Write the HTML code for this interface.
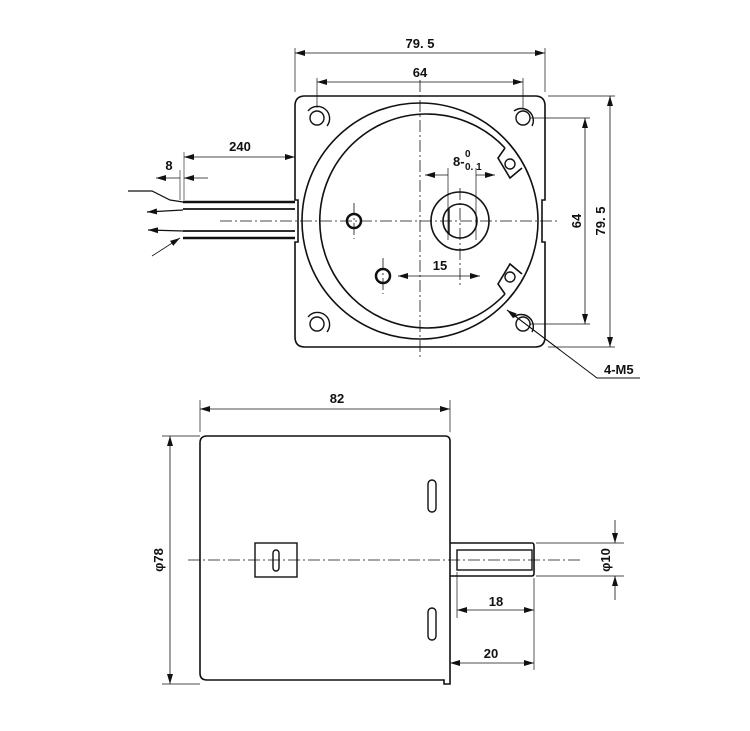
<!DOCTYPE html>
<html><head><meta charset="utf-8"><style>
html,body{margin:0;padding:0;background:#fff}
svg{display:block}
text{font-family:"Liberation Sans",sans-serif;fill:#111;font-weight:bold}
</style></head><body>
<svg width="750" height="731" viewBox="0 0 750 731" xmlns="http://www.w3.org/2000/svg">
<defs>
<marker id="a" viewBox="0 0 10 6" refX="10" refY="3" markerWidth="10" markerHeight="6" orient="auto-start-reverse" markerUnits="userSpaceOnUse"><path d="M0,0 L10,3 L0,6z" fill="#111"/></marker>
</defs>
<g fill="none" stroke="#111" stroke-width="1">
<!-- TOP VIEW -->
<path d="M305,96 H535 Q545,96 545,106 V200 H542 V242 H545 V337 Q545,347 535,347 H305 Q295,347 295,337 V242 H298 V200 H295 V106 Q295,96 305,96 Z" stroke-width="1.6"/>
<circle cx="420" cy="221" r="118" stroke-width="1.6"/>
<path d="M505,148 A107,107 0 1 0 505,294" stroke-width="1.6"/>
<path d="M505,148 L498,158 L510,178 L522,168" stroke-width="1.6"/>
<path d="M505,294 L498,284 L510,264 L522,274" stroke-width="1.6"/>
<circle cx="510" cy="164" r="5" stroke-width="1.4"/>
<circle cx="510" cy="277" r="5" stroke-width="1.4"/>
<!-- corner holes -->
<g stroke-width="1.4">
<circle cx="317" cy="118" r="7"/><circle cx="523" cy="118" r="7"/><circle cx="317" cy="324" r="7"/><circle cx="523" cy="324" r="7"/>
<path d="M308,111 A12,12 0 0 1 327,126"/><path d="M514,111 A12,12 0 0 1 532,126"/><path d="M308,317 A12,12 0 0 1 327,332"/><path d="M514,317 A12,12 0 0 1 532,332"/>
</g>
<!-- shaft -->
<circle cx="460" cy="221" r="29" stroke-width="1.6"/>
<circle cx="460" cy="221" r="17" stroke-width="1.6"/>
<line x1="449" y1="208" x2="449" y2="234" stroke-width="1.4"/>
<circle cx="354" cy="221" r="7" stroke-width="2.5"/>
<circle cx="383" cy="276" r="7" stroke-width="2.5"/>
<!-- centre lines -->
<g stroke-dasharray="12,3,2,3" stroke-width="0.8">
<line x1="220" y1="221" x2="560" y2="221"/>
<line x1="420" y1="80" x2="420" y2="360"/>
<line x1="460" y1="188" x2="460" y2="285"/>
<line x1="354" y1="203" x2="354" y2="239"/>
<line x1="383" y1="258" x2="383" y2="294"/>
</g>
<!-- dims top -->
<line x1="295" y1="92" x2="295" y2="48" stroke-width="0.7"/>
<line x1="545" y1="92" x2="545" y2="48" stroke-width="0.7"/>
<line x1="295" y1="53" x2="545" y2="53" marker-start="url(#a)" marker-end="url(#a)" stroke-width="0.8"/>
<line x1="317" y1="108" x2="317" y2="78" stroke-width="0.7"/>
<line x1="523" y1="108" x2="523" y2="78" stroke-width="0.7"/>
<line x1="317" y1="82" x2="523" y2="82" marker-start="url(#a)" marker-end="url(#a)" stroke-width="0.8"/>
<line x1="548" y1="96" x2="615" y2="96" stroke-width="0.7"/>
<line x1="548" y1="347" x2="615" y2="347" stroke-width="0.7"/>
<line x1="610" y1="96" x2="610" y2="347" marker-start="url(#a)" marker-end="url(#a)" stroke-width="0.8"/>
<line x1="530" y1="118" x2="590" y2="118" stroke-width="0.7"/>
<line x1="530" y1="324" x2="590" y2="324" stroke-width="0.7"/>
<line x1="585" y1="118" x2="585" y2="324" marker-start="url(#a)" marker-end="url(#a)" stroke-width="0.8"/>
<!-- 240 / 8 -->
<line x1="184" y1="157" x2="295" y2="157" marker-start="url(#a)" marker-end="url(#a)" stroke-width="0.8"/>
<line x1="184" y1="152" x2="184" y2="200" stroke-width="0.6"/>
<line x1="180" y1="170" x2="180" y2="200" stroke-width="0.6"/>
<line x1="156" y1="178" x2="180" y2="178" marker-start="url(#a)" stroke-width="0.8"/>
<line x1="184" y1="178" x2="208" y2="178" marker-start="url(#a)" stroke-width="0.8"/>
<!-- wires -->
<line x1="183" y1="202" x2="295" y2="202" stroke-width="2.5"/>
<line x1="183" y1="209" x2="295" y2="209" stroke-width="1.8"/>
<line x1="183" y1="231" x2="295" y2="231" stroke-width="1.8"/>
<line x1="183" y1="238" x2="295" y2="238" stroke-width="2.5"/>
<polyline points="128,191 152,191 170,200 183,202" stroke-width="1.2"/>
<line x1="183" y1="210" x2="147" y2="212" marker-end="url(#a)" stroke-width="1.2"/>
<line x1="183" y1="231" x2="148" y2="230" marker-end="url(#a)" stroke-width="1.2"/>
<line x1="152" y1="256" x2="180" y2="238" marker-end="url(#a)" stroke-width="0.8"/>
<!-- 8-0.1 -->
<line x1="448" y1="168" x2="448" y2="240" stroke-width="0.7"/>
<line x1="476" y1="168" x2="476" y2="240" stroke-width="0.7"/>
<line x1="425" y1="175" x2="448" y2="175" marker-start="url(#a)" stroke-width="0.8"/>
<line x1="476" y1="175" x2="495" y2="175" marker-end="url(#a)" stroke-width="0.8"/>
<!-- 15 -->
<line x1="398" y1="276" x2="480" y2="276" marker-start="url(#a)" marker-end="url(#a)" stroke-width="0.8"/>
<!-- 4-M5 leader -->
<polyline points="507,310 597,378 640,378" stroke-width="1"/>
<line x1="560" y1="350" x2="507" y2="310" marker-end="url(#a)" stroke-width="1"/>

<!-- SIDE VIEW -->
<path d="M207,436 H445 Q450,436 450,441 V684 H444 V680 H207 Q200,680 200,673 V443 Q200,436 207,436 Z" stroke-width="1.6"/>
<rect x="428" y="480" width="8" height="32" rx="4" stroke-width="1.4"/>
<rect x="428" y="608" width="8" height="32" rx="4" stroke-width="1.4"/>
<rect x="255" y="543" width="42" height="34" stroke-width="1.4"/>
<rect x="273" y="550" width="6" height="21" rx="3" stroke-width="1.4"/>
<path d="M450,543 H532 Q534,543 534,546 V573 Q534,576 532,576 H450" stroke-width="1.6"/>
<rect x="457" y="550" width="75" height="20" stroke-width="1.4"/>
<line x1="188" y1="560" x2="580" y2="560" stroke-dasharray="12,3,2,3" stroke-width="0.8"/>
<!-- 82 -->
<line x1="200" y1="432" x2="200" y2="400" stroke-width="0.7"/>
<line x1="450" y1="432" x2="450" y2="400" stroke-width="0.7"/>
<line x1="200" y1="409" x2="450" y2="409" marker-start="url(#a)" marker-end="url(#a)" stroke-width="0.8"/>
<!-- phi78 -->
<line x1="162" y1="436" x2="200" y2="436" stroke-width="0.7"/>
<line x1="162" y1="684" x2="200" y2="684" stroke-width="0.7"/>
<line x1="170" y1="436" x2="170" y2="684" marker-start="url(#a)" marker-end="url(#a)" stroke-width="0.8"/>
<!-- phi10 -->
<line x1="536" y1="543" x2="624" y2="543" stroke-width="0.7"/>
<line x1="536" y1="576" x2="624" y2="576" stroke-width="0.7"/>
<line x1="615" y1="520" x2="615" y2="543" marker-end="url(#a)" stroke-width="0.8"/>
<line x1="615" y1="600" x2="615" y2="576" marker-end="url(#a)" stroke-width="0.8"/>
<!-- 18 / 20 -->
<line x1="457" y1="572" x2="457" y2="618" stroke-width="0.7"/>
<line x1="534" y1="578" x2="534" y2="670" stroke-width="0.7"/>
<line x1="457" y1="610" x2="534" y2="610" marker-start="url(#a)" marker-end="url(#a)" stroke-width="0.8"/>
<line x1="450" y1="663" x2="534" y2="663" marker-start="url(#a)" marker-end="url(#a)" stroke-width="0.8"/>
</g>
<g font-size="13">
<text x="420" y="48" text-anchor="middle">79. 5</text>
<text x="420" y="77" text-anchor="middle">64</text>
<text x="240" y="151" text-anchor="middle">240</text>
<text x="169" y="170" text-anchor="middle">8</text>
<text x="453" y="166">8-</text>
<text x="465" y="157" font-size="10">0</text>
<text x="465" y="170" font-size="10">0. 1</text>
<text x="440" y="270" text-anchor="middle">15</text>
<text x="604" y="374">4-M5</text>
<text transform="translate(581,221) rotate(-90)" text-anchor="middle">64</text>
<text transform="translate(605,221) rotate(-90)" text-anchor="middle">79. 5</text>
<text x="337" y="403" text-anchor="middle">82</text>
<text transform="translate(163,560) rotate(-90)" text-anchor="middle">φ78</text>
<text transform="translate(610,560) rotate(-90)" text-anchor="middle">φ10</text>
<text x="496" y="606" text-anchor="middle">18</text>
<text x="491" y="658" text-anchor="middle">20</text>
</g>
</svg>
</body></html>
